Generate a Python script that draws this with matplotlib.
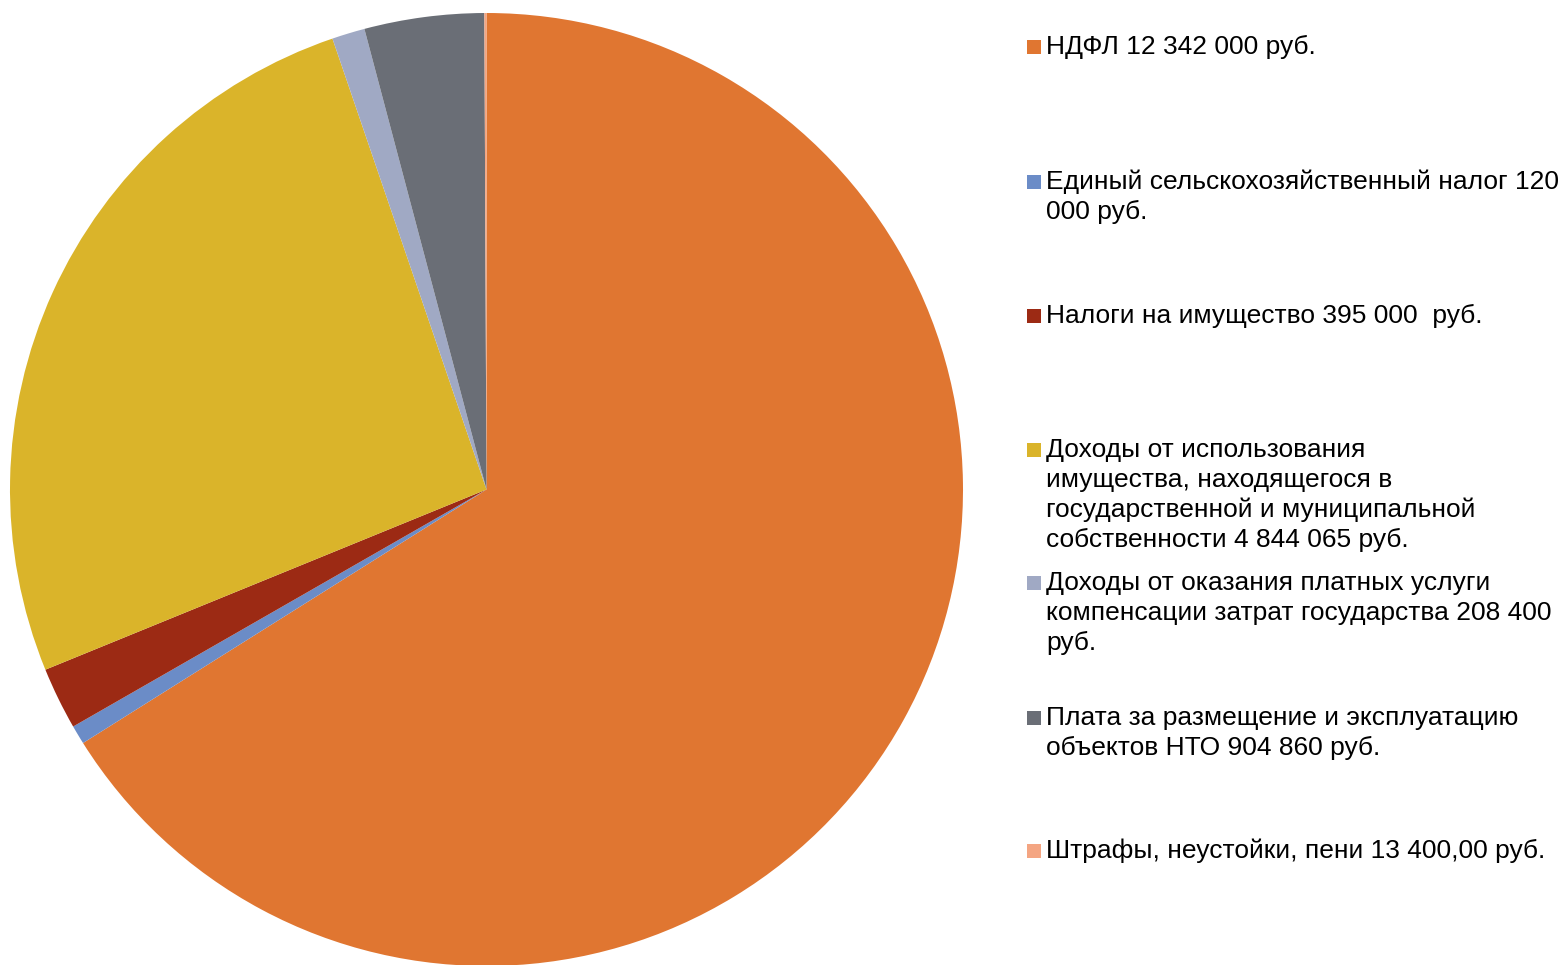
import matplotlib
matplotlib.use("Agg")
import matplotlib.pyplot as plt
from matplotlib.patches import Rectangle

labels = [
    "НДФЛ 12 342 000 руб.",
    "Единый сельскохозяйственный налог 120\n000 руб.",
    "Налоги на имущество 395 000  руб.",
    "Доходы от использования\nимущества, находящегося в\nгосударственной и муниципальной\nсобственности 4 844 065 руб.",
    "Доходы от оказания платных услуги\nкомпенсации затрат государства 208 400\nруб.",
    "Плата за размещение и эксплуатацию\nобъектов НТО 904 860 руб.",
    "Штрафы, неустойки, пени 13 400,00 руб.",
]
# slice sizes as drawn in the picture (the grey slice is drawn smaller than its label)
values = [12342000, 120000, 395000, 4844065, 208400, 757000, 13400]
colors = ["#E07631", "#6B8CC7", "#9C2A14", "#DAB42A", "#A0A9C4", "#6A6E76", "#F4A582"]
legend_first_line_y = [47, 182, 316, 450, 583, 718, 851]

W, H = 1568, 965
fig = plt.figure(figsize=(W / 100, H / 100), dpi=100)
plt.rcParams['font.family'] = ['Liberation Sans', 'DejaVu Sans']

cx, cy, r = 486.5, 489.5, 476.5
ax = fig.add_axes([(cx - r) / W, (H - cy - r) / H, 2 * r / W, 2 * r / H])
ax.pie(values, colors=colors, startangle=90, counterclock=False,
       wedgeprops=dict(linewidth=0))
ax.set_xlim(-1, 1)
ax.set_ylim(-1, 1)
ax.set_aspect('equal')
ax.axis('off')

line_pitch = 30
for lab, col, y0 in zip(labels, colors, legend_first_line_y):
    fig.patches.append(Rectangle((1027 / W, 1 - (y0 + 7) / H), 14 / W, 14 / H,
                                 transform=fig.transFigure, facecolor=col,
                                 edgecolor='none'))
    for i, line in enumerate(lab.split("\n")):
        fig.text(1046 / W, 1 - (y0 + i * line_pitch) / H, line,
                 fontsize=19, va='center', ha='left', color='black')

fig.savefig("out.png", dpi=100)
